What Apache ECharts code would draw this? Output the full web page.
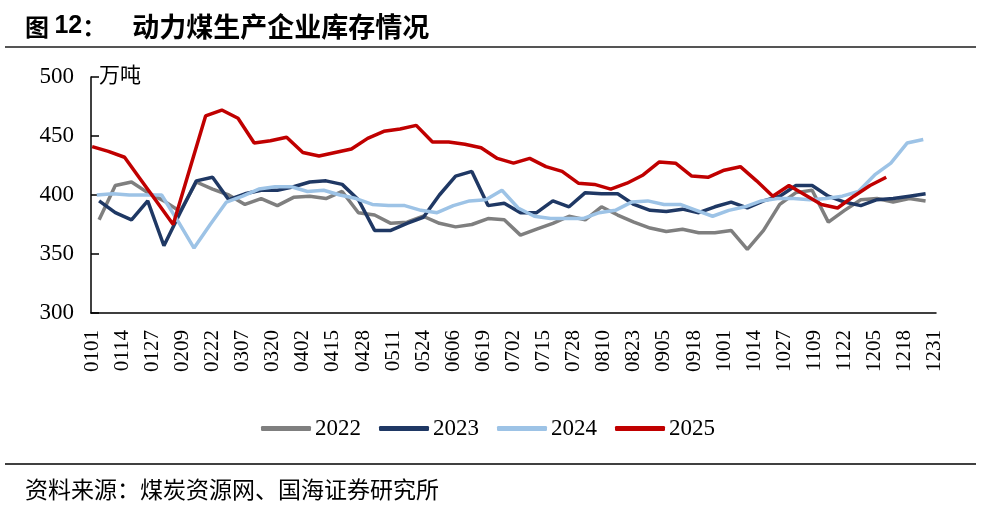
<!DOCTYPE html>
<html><head><meta charset="utf-8">
<script src="https://cdn.jsdelivr.net/npm/echarts@6/dist/echarts.min.js"></script>
<style>html,body{margin:0;padding:0;background:#fff}#c{width:998px;height:505px}</style>
</head><body><div id="c"></div>
<script>
// x-axis categories: every day of a (non-leap) year, MMDD
const monthDays = [31,28,31,30,31,30,31,31,30,31,30,31];
const categories = [];
monthDays.forEach((n, m) => { for (let d = 1; d <= n; d++) categories.push(String(m + 1).padStart(2, '0') + String(d).padStart(2, '0')); });

const seriesNames = ['2022', '2023', '2024', '2025'];
// first observation date of each year's weekly series
const firstDate = { '2022': '0104', '2023': '0104', '2024': '0103', '2025': '0101' };

// weekly inventory, 万吨
const v2022 = [379,408,411,402,395,386,411,405,400,392,397,391,398,399,397,403,385,383,376,377,382,376,373,375,380,379,366,371,376,382,379,390,383,377,372,369,371,368,368,370,354,370,392,402,404,377,387,396,397,394,397,395];
const v2023 = [395,385,379,395,357,385,412,415,396,401,404,404,407,411,412,409,396,370,370,376,381,400,416,420,391,393,385,385,395,390,402,401,401,392,387,386,388,385,390,394,389,395,399,408,408,399,394,391,396,397,399,401];
const v2024 = [400,401,400,400,400,378,355,375,394,399,405,407,407,403,404,400,397,392,391,391,387,385,391,395,396,404,389,382,380,380,380,385,387,394,395,392,392,387,382,387,390,395,397,397,396,397,399,403,417,427,444,447];
const v2025 = [441,437,432,413,394,375,421,467,472,465,444,446,449,436,433,436,439,448,454,456,459,445,445,443,440,431,427,431,424,420,410,409,405,410,417,428,427,416,415,421,424,412,399,408,400,392,389,399,408,415];
const seriesValues = { '2022': v2022, '2023': v2023, '2024': v2024, '2025': v2025 };
const colors = { '2022': '#7f7f7f', '2023': '#1f3864', '2024': '#9dc3e6', '2025': '#c00000' };

function weekly(name) {
  const s = categories.indexOf(firstDate[name]);
  return seriesValues[name].map((v, i) => [categories[s + 7 * i], v]);
}

const chart = echarts.init(document.getElementById('c'));
chart.setOption({
  animation: false,
  backgroundColor: '#fff',
  title: [{
    left: 20, top: 8,
    text: '{a|图 }{n|12}{a|：}{b|动力煤生产企业库存情况}',
    textStyle: {
      rich: {
        a: { fontFamily: 'Noto Sans CJK SC', fontWeight: 'bold', fontSize: 24, color: '#000' },
        n: { fontFamily: 'Liberation Sans', fontWeight: 'bold', fontSize: 25, color: '#000' },
        b: { fontFamily: 'Noto Sans CJK SC', fontWeight: 'bold', fontSize: 27, color: '#000', padding: [0, 0, 0, 26] }
      }
    }
  }, {
    left: 20, top: 473,
    text: '资料来源：煤炭资源网、国海证券研究所',
    textStyle: { fontFamily: 'Noto Sans CJK SC', fontWeight: 'normal', fontSize: 23, color: '#000' }
  }],
  graphic: [
    { type: 'line', shape: { x1: 5, y1: 47, x2: 976, y2: 47 }, style: { stroke: '#555', lineWidth: 2 } },
    { type: 'line', shape: { x1: 5, y1: 464, x2: 976, y2: 464 }, style: { stroke: '#000', lineWidth: 1.5 } }
  ],
  legend: {
    left: 256, top: 412,
    icon: 'roundRect', itemWidth: 50, itemHeight: 5, itemGap: 18,
    data: seriesNames,
    textStyle: { fontFamily: 'Liberation Serif', fontSize: 23, color: '#000', padding: [0, 0, 0, -1] }
  },
  grid: { left: 91, right: 62, top: 77, bottom: 192, containLabel: false },
  xAxis: {
    type: 'category', data: categories, boundaryGap: true,
    axisLine: { lineStyle: { color: '#000', width: 1.5 } },
    axisTick: { inside: true, length: 8, interval: 19, lineStyle: { color: '#000', width: 1.5 } },
    axisLabel: { interval: 12, rotate: 90, margin: 17, fontFamily: 'Liberation Serif', fontSize: 21, color: '#000' },
    splitLine: { show: false }
  },
  yAxis: {
    type: 'value', min: 300, max: 500, interval: 50,
    name: '万吨', nameLocation: 'end', nameGap: -8,
    nameTextStyle: { fontFamily: 'Noto Sans CJK SC', fontSize: 21, color: '#000', align: 'left', padding: [0, 0, 0, 8] },
    axisLine: { show: true, lineStyle: { color: '#000', width: 1.5 } },
    axisTick: { show: true, inside: true, length: 8, lineStyle: { color: '#000', width: 1.5 } },
    axisLabel: { margin: 17, fontFamily: 'Liberation Serif', fontSize: 23, color: '#000' },
    splitLine: { show: false }
  },
  series: seriesNames.map(n => ({
    name: n, type: 'line', data: weekly(n), symbol: 'none', smooth: false,
    color: colors[n], lineStyle: { width: 3.5, color: colors[n] }
  }))
});
</script></body></html>
